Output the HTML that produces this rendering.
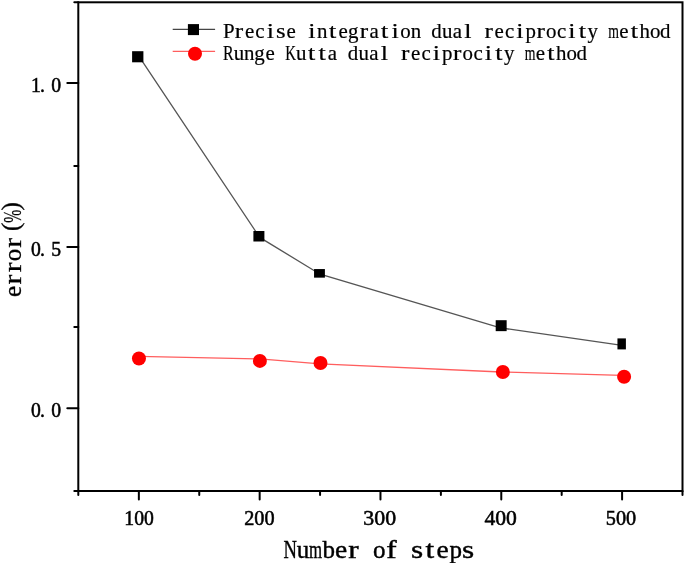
<!DOCTYPE html>
<html><head><meta charset="utf-8"><style>
html,body{margin:0;padding:0;background:#fff;width:685px;height:563px;overflow:hidden;}
svg{display:block;font-family:"Liberation Serif",serif;will-change:transform;}
</style></head><body><svg width="685" height="563" viewBox="0 0 685 563" font-family="Liberation Serif, serif"><rect x="78.3" y="2.3" width="604.20" height="488.70" fill="none" stroke="#000" stroke-width="2"/><path d="M67.30 408.20H78.3 M67.30 246.90H78.3 M67.30 83.00H78.3 M74.30 491.00H78.3 M74.30 326.90H78.3 M74.30 166.00H78.3 M74.30 2.30H78.3 M138.85 491.0V499.50 M259.66 491.0V499.50 M380.47 491.0V499.50 M501.28 491.0V499.50 M622.09 491.0V499.50 M78.30 491.0V495.00 M199.25 491.0V495.00 M320.06 491.0V495.00 M440.88 491.0V495.00 M561.68 491.0V495.00 M682.50 491.0V495.00" stroke="#000" stroke-width="2" stroke-linecap="round" fill="none"/><polyline points="138.85,56.2 259.7,237.4 320.1,274.2 501.3,328.0 622.1,345.4" fill="none" stroke="#555" stroke-width="1.3"/><polyline points="138.85,356.4 259.7,358.9 320.1,363.8 501.3,372.0 622.1,375.3" fill="none" stroke="#ff5e5e" stroke-width="1.3"/><rect x="132.1" y="51.2" width="11.30" height="11.10" fill="#000"/><rect x="253.4" y="231.0" width="11.00" height="10.50" fill="#000"/><rect x="314.05" y="269.05" width="10.85" height="8.60" fill="#000"/><rect x="495.7" y="320.2" width="10.95" height="10.95" fill="#000"/><rect x="617.45" y="338.4" width="8.45" height="11.00" fill="#000"/><circle cx="138.95" cy="358.55" r="7" fill="#f00"/><circle cx="259.9" cy="360.9" r="7" fill="#f00"/><circle cx="320.5" cy="363.05" r="7" fill="#f00"/><circle cx="502.85" cy="372.05" r="7" fill="#f00"/><circle cx="624.1" cy="376.7" r="7" fill="#f00"/><path d="M172.7 29.4H215.1" stroke="#454545" stroke-width="1.2"/><rect x="187.9" y="24.1" width="11.1" height="11" fill="#000"/><path d="M172.7 51.45H215.1" stroke="#ff5e5e" stroke-width="1.3"/><circle cx="195" cy="53.7" r="7" fill="#f00"/><g font-size="20.9" fill="#000" stroke="#000" stroke-width="0.2" ><text x="223.11" y="37.80">P</text><text transform="translate(234.85,37.80) scale(1.210,1)" x="0" y="0">r</text><text x="244.92" y="37.80">e</text><text x="255.29" y="37.80">c</text><text transform="translate(266.75,37.80) scale(1.250,1)" x="0" y="0">i</text><text transform="translate(275.94,37.80) scale(1.180,1)" x="0" y="0">s</text><text x="286.52" y="37.80">e</text><text transform="translate(308.35,37.80) scale(1.250,1)" x="0" y="0">i</text><text x="317.09" y="37.80">n</text><text transform="translate(329.12,37.80) scale(1.250,1)" x="0" y="0">t</text><text x="338.52" y="37.80">e</text><text x="348.12" y="37.80">g</text><text transform="translate(359.65,37.80) scale(1.210,1)" x="0" y="0">r</text><text x="369.54" y="37.80">a</text><text transform="translate(381.12,37.80) scale(1.250,1)" x="0" y="0">t</text><text transform="translate(391.55,37.80) scale(1.250,1)" x="0" y="0">i</text><text x="400.37" y="37.80">o</text><text x="410.69" y="37.80">n</text><text x="431.32" y="37.80">d</text><text x="442.02" y="37.80">u</text><text x="452.74" y="37.80">a</text><text transform="translate(464.37,37.80) scale(1.250,1)" x="0" y="0">l</text><text transform="translate(484.45,37.80) scale(1.210,1)" x="0" y="0">r</text><text x="494.52" y="37.80">e</text><text x="504.89" y="37.80">c</text><text transform="translate(516.35,37.80) scale(1.250,1)" x="0" y="0">i</text><text x="525.41" y="37.80">p</text><text transform="translate(536.45,37.80) scale(1.210,1)" x="0" y="0">r</text><text x="545.98" y="37.80">o</text><text x="556.89" y="37.80">c</text><text transform="translate(568.35,37.80) scale(1.250,1)" x="0" y="0">i</text><text transform="translate(578.72,37.80) scale(1.250,1)" x="0" y="0">t</text><text x="587.49" y="37.80">y</text><text transform="translate(608.22,37.80) scale(0.658,1)" x="0" y="0">m</text><text x="619.32" y="37.80">e</text><text transform="translate(630.72,37.80) scale(1.250,1)" x="0" y="0">t</text><text x="639.61" y="37.80">h</text><text x="649.98" y="37.80">o</text><text x="660.12" y="37.80">d</text></g><g font-size="20.9" fill="#000" stroke="#000" stroke-width="0.2" ><text transform="translate(222.94,59.90) scale(0.766,1)" x="0" y="0">R</text><text x="233.72" y="59.90">u</text><text x="243.99" y="59.90">n</text><text x="254.22" y="59.90">g</text><text x="265.42" y="59.90">e</text><text transform="translate(285.37,59.90) scale(0.714,1)" x="0" y="0">K</text><text x="296.12" y="59.90">u</text><text transform="translate(308.02,59.90) scale(1.250,1)" x="0" y="0">t</text><text transform="translate(318.42,59.90) scale(1.250,1)" x="0" y="0">t</text><text x="327.64" y="59.90">a</text><text x="347.82" y="59.90">d</text><text x="358.52" y="59.90">u</text><text x="369.24" y="59.90">a</text><text transform="translate(380.87,59.90) scale(1.250,1)" x="0" y="0">l</text><text transform="translate(400.95,59.90) scale(1.210,1)" x="0" y="0">r</text><text x="411.02" y="59.90">e</text><text x="421.39" y="59.90">c</text><text transform="translate(432.85,59.90) scale(1.250,1)" x="0" y="0">i</text><text x="441.91" y="59.90">p</text><text transform="translate(452.95,59.90) scale(1.210,1)" x="0" y="0">r</text><text x="462.47" y="59.90">o</text><text x="473.39" y="59.90">c</text><text transform="translate(484.85,59.90) scale(1.250,1)" x="0" y="0">i</text><text transform="translate(495.22,59.90) scale(1.250,1)" x="0" y="0">t</text><text x="503.99" y="59.90">y</text><text transform="translate(524.72,59.90) scale(0.658,1)" x="0" y="0">m</text><text x="535.82" y="59.90">e</text><text transform="translate(547.22,59.90) scale(1.250,1)" x="0" y="0">t</text><text x="556.11" y="59.90">h</text><text x="566.48" y="59.90">o</text><text x="576.62" y="59.90">d</text></g><text transform="translate(139.10,524.6) scale(0.94,1)" x="0" y="0" font-size="20.9" text-anchor="middle" stroke="#000" stroke-width="0.55">100</text><text transform="translate(259.40,524.6) scale(0.969,1)" x="0" y="0" font-size="20.9" text-anchor="middle" stroke="#000" stroke-width="0.55">200</text><text transform="translate(379.70,524.6) scale(1.045,1)" x="0" y="0" font-size="20.9" text-anchor="middle" stroke="#000" stroke-width="0.55">300</text><text transform="translate(500.60,524.6) scale(1.034,1)" x="0" y="0" font-size="20.9" text-anchor="middle" stroke="#000" stroke-width="0.55">400</text><text transform="translate(621.00,524.6) scale(0.968,1)" x="0" y="0" font-size="20.9" text-anchor="middle" stroke="#000" stroke-width="0.55">500</text><text transform="translate(36.0,91.6) scale(0.94,1)" x="0" y="0" font-size="20.9" text-anchor="middle" stroke="#000" stroke-width="0.55">1</text><text transform="translate(42.5,91.6) scale(0.94,1)" x="0" y="0" font-size="20.9" text-anchor="middle" stroke="#000" stroke-width="0.55">.</text><text transform="translate(56.1,91.6) scale(0.94,1)" x="0" y="0" font-size="20.9" text-anchor="middle" stroke="#000" stroke-width="0.55">0</text><text transform="translate(36.0,255.5) scale(0.94,1)" x="0" y="0" font-size="20.9" text-anchor="middle" stroke="#000" stroke-width="0.55">0</text><text transform="translate(42.5,255.5) scale(0.94,1)" x="0" y="0" font-size="20.9" text-anchor="middle" stroke="#000" stroke-width="0.55">.</text><text transform="translate(56.1,255.5) scale(0.94,1)" x="0" y="0" font-size="20.9" text-anchor="middle" stroke="#000" stroke-width="0.55">5</text><text transform="translate(36.0,417.2) scale(0.94,1)" x="0" y="0" font-size="20.9" text-anchor="middle" stroke="#000" stroke-width="0.55">0</text><text transform="translate(42.5,417.2) scale(0.94,1)" x="0" y="0" font-size="20.9" text-anchor="middle" stroke="#000" stroke-width="0.55">.</text><text transform="translate(56.1,417.2) scale(0.94,1)" x="0" y="0" font-size="20.9" text-anchor="middle" stroke="#000" stroke-width="0.55">0</text><g font-size="25" fill="#000" stroke="#000" stroke-width="0.4" ><text transform="translate(283.49,557.50) scale(0.743,1)" x="0" y="0">N</text><text x="296.75" y="557.50">u</text><text transform="translate(309.07,557.50) scale(0.672,1)" x="0" y="0">m</text><text x="322.58" y="557.50">b</text><text transform="translate(334.90,557.50) scale(1.098,1)" x="0" y="0">e</text><text transform="translate(348.37,557.50) scale(1.250,1)" x="0" y="0">r</text><text x="372.90" y="557.50">o</text><text transform="translate(386.17,557.50) scale(1.250,1)" x="0" y="0">f</text><text transform="translate(411.09,557.50) scale(1.250,1)" x="0" y="0">s</text><text transform="translate(425.55,557.50) scale(1.250,1)" x="0" y="0">t</text><text transform="translate(436.50,557.50) scale(1.098,1)" x="0" y="0">e</text><text x="449.39" y="557.50">p</text><text transform="translate(461.89,557.50) scale(1.250,1)" x="0" y="0">s</text></g><g transform="translate(21.4,297.6) rotate(-90)"><g font-size="25" fill="#000" stroke="#000" stroke-width="0.3" ><text x="0.50" y="0.00">e</text><text transform="translate(13.19,0.00) scale(1.187,1)" x="0" y="0">r</text><text transform="translate(25.39,0.00) scale(1.187,1)" x="0" y="0">r</text><text x="36.45" y="0.00">o</text><text transform="translate(49.79,0.00) scale(1.187,1)" x="0" y="0">r</text><text x="66.59" y="-2.50">(</text><text transform="translate(74.89,0.00) scale(0.625,1)" x="0" y="0">%</text><text x="87.18" y="-2.50">)</text></g></g></svg></body></html>
